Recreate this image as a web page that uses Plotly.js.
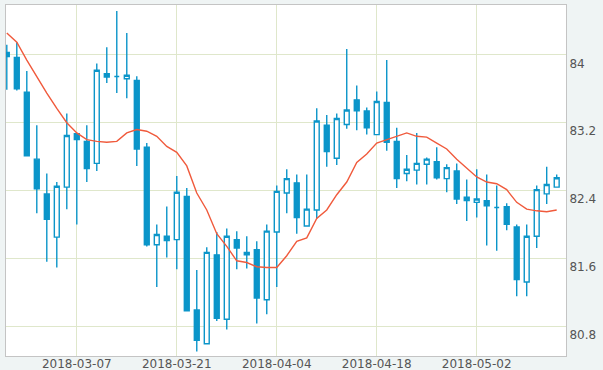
<!DOCTYPE html>
<html>
<head>
<meta charset="utf-8">
<script src="https://cdn.plot.ly/plotly-3.0.1.min.js"></script>
<style>
  html, body { margin: 0; padding: 0; background: #eff4f4; }
  #chart { width: 603px; height: 370px; }
</style>
</head>
<body>
<div id="chart"></div>
<script>
const dates = [
  '2018-02-26','2018-02-27','2018-02-28','2018-03-01','2018-03-02',
  '2018-03-05','2018-03-06','2018-03-07','2018-03-08','2018-03-09',
  '2018-03-12','2018-03-13','2018-03-14','2018-03-15','2018-03-16',
  '2018-03-19','2018-03-20','2018-03-21','2018-03-22','2018-03-23',
  '2018-03-26','2018-03-27','2018-03-28','2018-03-29','2018-03-30',
  '2018-04-02','2018-04-03','2018-04-04','2018-04-05','2018-04-06',
  '2018-04-09','2018-04-10','2018-04-11','2018-04-12','2018-04-13',
  '2018-04-16','2018-04-17','2018-04-18','2018-04-19','2018-04-20',
  '2018-04-23','2018-04-24','2018-04-25','2018-04-26','2018-04-27',
  '2018-04-30','2018-05-01','2018-05-02','2018-05-03','2018-05-04',
  '2018-05-07','2018-05-08','2018-05-09','2018-05-10','2018-05-11',
  '2018-05-14'
];
const openV = [84.03,83.97,83.56,82.77,82.36,81.85,82.44,83.07,82.98,82.72,
  83.78,83.745,83.72,83.70,82.91,81.76,81.86,81.82,82.33,80.99,
  80.59,81.64,80.88,81.82,81.67,81.70,81.11,81.91,82.37,82.49,
  81.98,82.17,83.17,82.78,83.18,83.47,83.34,83.06,83.44,82.98,
  82.60,82.64,82.71,82.74,82.54,82.63,82.32,82.26,82.28,82.20,
  82.21,81.97,81.32,81.86,82.36,82.44];
const highV = [84.12,84.15,83.81,83.17,82.60,82.50,83.31,83.08,83.17,83.90,
  84.09,84.52,84.26,83.75,82.96,82.00,82.21,82.57,82.43,81.46,
  81.73,81.91,81.95,81.92,81.86,81.80,82.00,82.46,82.65,82.59,
  82.59,83.37,83.29,83.31,84.07,83.64,83.38,83.57,83.94,83.14,
  82.82,83.08,82.79,82.91,82.71,82.72,82.53,82.65,82.59,82.46,
  82.25,82.00,82.00,82.46,82.68,82.59];
const lowV = [83.59,83.58,82.80,82.13,81.56,81.49,82.18,82.00,82.50,82.63,
  83.67,83.55,83.49,82.69,81.74,81.26,81.61,81.47,80.97,80.50,
  80.59,80.86,80.76,81.47,81.48,80.83,80.94,81.26,82.13,81.89,
  81.98,82.07,82.68,82.70,83.13,83.11,83.06,83.06,82.87,82.43,
  82.51,82.47,82.47,82.53,82.38,82.24,82.04,82.08,81.75,81.69,
  81.93,81.15,81.15,81.72,82.24,82.44];
const closeV = [83.98,83.60,82.81,82.42,82.06,82.45,83.05,83.00,82.66,83.82,
  83.74,83.745,83.76,82.89,81.76,81.88,81.81,82.38,80.98,80.63,
  81.67,80.89,81.86,81.72,81.64,81.13,81.92,82.39,82.54,82.08,
  82.18,83.22,82.86,83.25,83.35,83.34,83.14,83.45,82.97,82.54,
  82.65,82.72,82.77,82.55,82.67,82.30,82.28,82.30,82.22,82.20,
  82.00,81.35,81.86,82.41,82.47,82.55];
const maV = [84.26,84.15,83.94,83.74,83.55,83.37,83.20,83.08,83.00,82.98,
  82.97,82.98,83.08,83.12,83.10,83.04,82.92,82.85,82.69,82.37,
  82.17,81.89,81.74,81.57,81.55,81.50,81.49,81.49,81.63,81.80,
  81.84,82.07,82.17,82.35,82.50,82.73,82.83,82.96,83.00,83.04,
  83.08,83.04,83.03,82.96,82.89,82.77,82.67,82.56,82.50,82.48,
  82.41,82.26,82.18,82.16,82.15,82.17];
const xTicks = ['2018-03-07','2018-03-21','2018-04-04','2018-04-18','2018-05-02'];
const yTicks = [80.8, 81.6, 82.4, 83.2, 84];
const yTickText = ['80.8','81.6','82.4','83.2','84'];

const BLUE = '#0b95c9';
const traces = [
  {
    type: 'candlestick',
    x: dates, open: openV, high: highV, low: lowV, close: closeV,
    increasing: { line: { color: BLUE, width: 1.4 }, fillcolor: '#ffffff' },
    decreasing: { line: { color: BLUE, width: 1.4 }, fillcolor: BLUE },
    hoverinfo: 'skip',
    showlegend: false
  },
  {
    type: 'scatter', mode: 'lines',
    x: dates, y: maV,
    line: { color: '#f05a3c', width: 1.4 },
    hoverinfo: 'skip',
    showlegend: false
  }
];

const layout = {
  width: 603, height: 370,
  margin: { l: 6, r: 37, t: 5, b: 14 },
  paper_bgcolor: '#eff4f4',
  plot_bgcolor: '#ffffff',
  font: { family: 'DejaVu Sans, Verdana, sans-serif', size: 12, color: '#555555' },
  boxgap: 0.3,
  xaxis: {
    type: 'category',
    range: [-0.08, 55.93],
    rangeslider: { visible: false },
    tickmode: 'array',
    tickvals: xTicks,
    ticktext: xTicks,
    ticks: '',
    ticklabelstandoff: -3,
    showgrid: true,
    gridcolor: '#dfe7cb',
    gridwidth: 1,
    showline: true, mirror: true, linecolor: '#c4c4c4', linewidth: 1,
    zeroline: false,
    fixedrange: true
  },
  yaxis: {
    side: 'right',
    range: [80.446, 84.59],
    tickmode: 'array',
    tickvals: yTicks,
    ticktext: yTickText,
    ticks: '',
    ticklabelposition: 'outside bottom',
    showgrid: true,
    gridcolor: '#dfe7cb',
    gridwidth: 1,
    showline: true, mirror: true, linecolor: '#c4c4c4', linewidth: 1,
    zeroline: false,
    fixedrange: true
  },
  hovermode: false
};

Plotly.newPlot('chart', traces, layout, { displayModeBar: false, staticPlot: true });
</script>
</body>
</html>
